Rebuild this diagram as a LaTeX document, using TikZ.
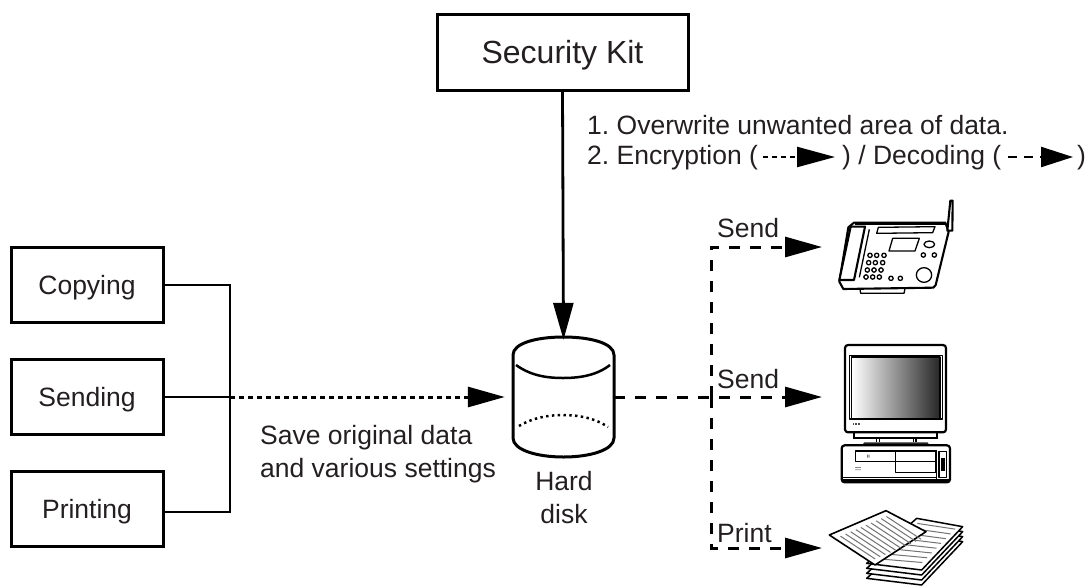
\documentclass[tikz,border=0pt]{standalone}
\usepackage{fontspec}
\setmainfont{Liberation Sans}
\usetikzlibrary{arrows.meta}
\definecolor{ink}{HTML}{231F20}
\tikzset{
  lbl/.style={text=ink,inner sep=0pt,font=\frenchspacing\fontsize{26.5pt}{33pt}\selectfont},
  boxn/.style={draw=black,line width=3pt,minimum width=152pt,minimum height=75pt,inner sep=0pt,text=ink,text height=21pt,text depth=3pt,font=\fontsize{26.5pt}{30pt}\selectfont},
  headtip/.tip={Triangle[length=37pt,width=20pt]},
  conn/.style={draw=black,line width=2.8pt},
  dotl/.style={draw=black,line width=3pt,dash pattern=on 4.5pt off 4.5pt},
  dashl/.style={draw=black,line width=3pt,dash pattern=on 11pt off 10pt},
  art/.style={draw=black,line width=1.3pt,line join=round},
  artthick/.style={draw=black,line width=2.1pt,line join=round},
  zoomart/.style={x=0.33333pt,y=-0.33333pt},
}
\begin{document}
\begin{tikzpicture}[x=1pt,y=-1pt]
\useasboundingbox (0,0) rectangle (1092,587);
\clip (0,0) rectangle (1092,587);
% nodes
\node[boxn,minimum width=251pt,minimum height=76pt,text height=25pt,text depth=3pt,font=\fontsize{32pt}{34pt}\selectfont] (kit) at (562.5,52) {Security Kit};
\node[boxn] (copying) at (87,285) {Copying};
\node[boxn] (sending) at (87,397) {Sending};
\node[boxn] (printing) at (87,509) {Printing};
\node[minimum width=101pt,minimum height=120pt,inner sep=0pt] (disk) at (563.5,397) {};
\coordinate (join) at (230,397);
\coordinate (hub) at (711,397);
\coordinate (faxin) at (822,247);
\coordinate (pcin) at (822,397);
\coordinate (printin) at (822,548);
% disk
\draw[line width=3pt,line join=round] (513,355) .. controls (513,343) and (537,337) .. (563.5,337) .. controls (590,337) and (614,343) .. (614,355) -- (614,438) .. controls (614,450) and (590,457) .. (563.5,457) .. controls (537,457) and (513,450) .. (513,438) -- cycle;
\draw[line width=2.5pt] (516,365) .. controls (530,375) and (545,378) .. (563,378) .. controls (581,378) and (597,375) .. (610,365);
\draw[line width=2.5pt,dash pattern=on 2.4pt off 3.4pt] (519,426) .. controls (532,418) and (548,415) .. (563,415) .. controls (578,415) and (595,418) .. (608,427);
% connectors
\draw[conn,-{headtip}] (kit.south) -- ([yshift=-3pt]disk.north);
\draw[conn] (copying.east) -| (join);
\draw[conn] (printing.east |- 0,512) -| (join);
\draw[conn] (sending.east) -- (join);
\draw[dotl,-{headtip},shorten >=8pt] (join) -- (disk.west);
\draw[dashl,-{headtip}] (disk.east) -- (pcin);
\draw[dashl,-{headtip}] (hub) |- (faxin);
\draw[dashl,-{headtip}] (hub) |- (printin);
% labels
\node[lbl,anchor=west] (save1) at (260,438) {Save original data};
\node[lbl,anchor=west] (save2) at (260,471) {and various settings};
\node[lbl] (hd1) at (564,481) {Hard};
\node[lbl] (hd2) at (564,514) {disk};
\node[lbl,anchor=west] (send1) at (717,228) {Send};
\node[lbl,anchor=west] (send2) at (717,379) {Send};
\node[lbl,anchor=west] (print) at (717,533) {Print};
\node[lbl,anchor=west] (l1) at (587,125) {1. Overwrite unwanted area of data.};
\node[lbl,anchor=west] (l2) at (587,158) {2. Encryption (};
\node[lbl,anchor=west] (l3) at (842,158) {) / Decoding (};
\node[lbl,anchor=west] (l4) at (1077,158) {)};
\coordinate (encs) at (763,157);
\coordinate (ence) at (835,157);
\coordinate (decs) at (1008,157);
\coordinate (dece) at (1073,157);
\draw[draw=black,line width=2.3pt,dash pattern=on 5pt off 4pt,-{Triangle[length=38pt,width=20pt]}] (encs) -- (ence);
\draw[draw=black,line width=2.3pt,dash pattern=on 9pt off 7pt,-{Triangle[length=32pt,width=20pt]}] (decs) -- (dece);
% fax
\begin{scope}[shift={(820pt,-190pt)},zoomart]
\draw[artthick] (102,98) -- (376,98) -- (386,125) -- (347,285) -- (340,293) -- (70,297) -- (58,275) -- (85,112) -- cycle;
\draw[art] (105,102) -- (376,102);
\draw[artthick,fill=white] (92,110) -- (135,110) -- (102,270) -- (58,270) -- cycle;
\draw[art] (148,118) -- (118,262);
\draw[art] (175,112) -- (345,110) -- (338,128) -- (170,130) -- cycle;
\draw[art] (218,145) -- (298,145) -- (285,183) -- (207,183) -- cycle;
\draw[art] (328,163) ellipse (16 and 10);
\foreach \cx/\cy in {150/196,170/196,192/196,146/218,166/218,188/218,142/240,162/240,183/240,138/261,158/261,178/261,213/265,241/265,310/195,343/195}
  \draw[art] (\cx,\cy) circle (6.5);
\draw[art] (312,255) ellipse (23 and 22);
\draw[artthick,fill=white] (382,122) -- (391,32) -- (398,32) -- (397,122) -- cycle;
\draw[art] (120,298) -- (122,310) -- (252,310) -- (255,296);
\end{scope}
% computer
\begin{scope}[shift={(820pt,-335pt)},zoomart]
\draw[line width=2.2pt,rounded corners=3pt] (75,30) rectangle (378,292);
\draw[art] (88,62) rectangle (368,252);
\shade[left color=white,right color=black!85] (95,66) rectangle (360,250);
\draw[art] (95,66) rectangle (360,250);
\foreach \dx in {98,106,114} \fill[black!70] (\dx,265) rectangle +(5,4);
\draw[line width=2pt] (103,292) -- (103,310) -- (352,310) -- (352,292);
\draw[line width=1.3pt] (170,310) -- (170,322) (178,310) -- (178,322) (280,310) -- (280,322) (288,310) -- (288,322);
\end{scope}
\begin{scope}[shift={(830pt,-420pt)},zoomart]
\fill[black!85,rounded corners=1pt] (100,67) rectangle (295,76);
\draw[line width=2.2pt,rounded corners=3pt] (35,76) rectangle (360,187);
\draw[line width=1.5pt] (35,172) -- (320,172) (35,180) -- (360,180);
\draw[art] (76,93) rectangle (197,125);
\draw[art] (197,93) rectangle (318,125);
\draw[art] (197,125) rectangle (318,158);
\draw[art] (320,90) -- (320,180);
\draw[art] (327,95) -- (350,95) -- (350,172) -- (327,172) -- cycle;
\fill[black] (333,115) rectangle (345,152);
\fill[black!80] (111,104) rectangle +(2,9) (116,104) rectangle +(2,9);
\foreach \dx in {76,82,88} \fill[black!70] (\dx,141) rectangle +(4,2.5) (\dx,148) rectangle +(4,2.5);
\end{scope}
% paper
\begin{scope}[shift={(810pt,-480pt)},zoomart]
\foreach \k in {45,30,15}
  \draw[artthick,fill=white,line width=1.5pt] (170,250+\k) -- (320,115+\k) -- (458,140+\k) -- (335,270+\k) -- cycle;
\draw[artthick,fill=white,line width=1.5pt] (170,250) -- (320,115) -- (458,140) -- (335,270) -- cycle;
\foreach \t in {0.08,0.19,...,0.95}{
  \draw[black!55,line width=1pt] ({332-\t*128},{119+\t*140}) -- ({446-\t*128},{137+\t*130});
}
\draw[artthick,fill=white,line width=1.6pt] (58,165) -- (228,92) -- (348,155) -- (195,255) -- cycle;
\foreach \t in {0.1,0.19,...,0.95}{
  \pgfmathsetmacro{\ax}{58+\t*170+0.12*137}
  \pgfmathsetmacro{\ay}{165-\t*73+0.12*90}
  \pgfmathsetmacro{\bx}{58+\t*170+0.88*137}
  \pgfmathsetmacro{\by}{165-\t*73+0.88*90}
  \draw[black!55,line width=1pt] (\ax,\ay) -- (\bx,\by);
}
\end{scope}
\end{tikzpicture}
\end{document}
